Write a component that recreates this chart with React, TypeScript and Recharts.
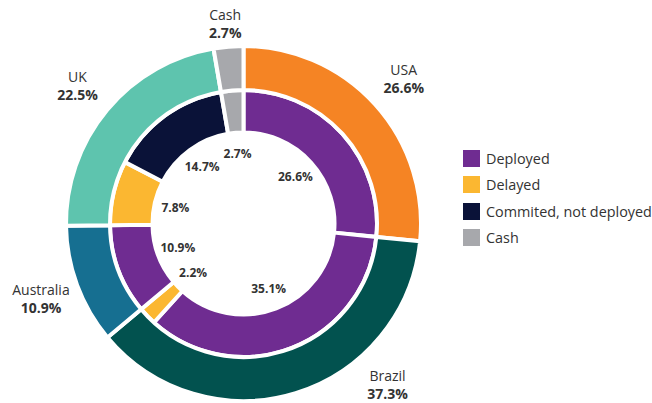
import React from "react";
import { PieChart, Pie, Cell, Legend } from "recharts";

const countries = ["USA", "Brazil", "Australia", "UK", "Cash"];
const countryValues = [26.6, 37.3, 10.9, 22.5, 2.7];
const countryColors = ["#f58424", "#02524f", "#166f91", "#5ec4ae", "#a7a8ac"];

const statusNames = ["Deployed", "Deployed", "Delayed", "Deployed", "Delayed", "Commited, not deployed", "Cash"];
const statusValues = [26.6, 35.1, 2.2, 10.9, 7.8, 14.7, 2.7];

const legendNames = ["Deployed", "Delayed", "Commited, not deployed", "Cash"];
const legendColors = ["#6f2c91", "#fbb731", "#0a1238", "#a7a8ac"];

const outerData = countries.map((name, i) => ({ name, value: countryValues[i] }));
const innerData = statusNames.map((name, i) => ({ name, value: statusValues[i] }));

const colorFor = (name: string) => legendColors[legendNames.indexOf(name)];

const RAD = Math.PI / 180;
const CX = 243.5;
const CY = 223.5;
const FONT = "'Open Sans', 'Noto Sans', sans-serif";
const TEXT = "#333333";

const innerLabel = (props: any) => {
  const { cx, cy, midAngle, value } = props;
  const r = 70;
  const x = cx + r * Math.cos(-midAngle * RAD);
  const y = cy + r * Math.sin(-midAngle * RAD);
  return (
    <text x={x} y={y} textAnchor="middle" dominantBaseline="central" fontFamily={FONT} fontSize={12} fontWeight={700} fill={TEXT}>
      {value.toFixed(1)}%
    </text>
  );
};

const outerLabel = (props: any) => {
  const { cx, cy, midAngle, value, name } = props;
  const r = 216;
  let dx = r * Math.cos(-midAngle * RAD);
  let dy = r * Math.sin(-midAngle * RAD);
  const maxDown = 161;
  if (dy > maxDown) {
    dy = maxDown;
    dx = Math.sign(dx || 1) * Math.sqrt(r * r - dy * dy);
  }
  const minUp = -200;
  if (dy < minUp) dy = minUp;
  const x = cx + dx;
  const y = cy + dy;
  return (
    <g>
      <text x={x} y={y - 9} textAnchor="middle" dominantBaseline="central" fontFamily={FONT} fontSize={14} fill={TEXT}>
        {name}
      </text>
      <text x={x} y={y + 9} textAnchor="middle" dominantBaseline="central" fontFamily={FONT} fontSize={14} fontWeight={700} fill={TEXT}>
        {value.toFixed(1)}%
      </text>
    </g>
  );
};

const renderLegend = () => (
  <div style={{ fontFamily: FONT, fontSize: 14.4, color: TEXT }}>
    {legendNames.map((n, i) => (
      <div key={n} style={{ display: "flex", alignItems: "center", height: 26.5 }}>
        <div style={{ width: 17, height: 17, background: legendColors[i], marginRight: 6 }} />
        <span>{n}</span>
      </div>
    ))}
  </div>
);

export default function App() {
  return (
    <div style={{ position: "absolute", left: 0, top: 0, width: 652, height: 403, background: "#fff" }}>
      <PieChart width={652} height={403} margin={{ top: 0, right: 0, bottom: 0, left: 0 }}>
        <Pie
          data={innerData}
          dataKey="value"
          nameKey="name"
          cx={CX}
          cy={CY}
          startAngle={90}
          endAngle={-270}
          innerRadius={91}
          outerRadius={133.5}
          stroke="#ffffff"
          strokeWidth={4}
          label={innerLabel}
          labelLine={false}
          isAnimationActive={false}
        >
          {innerData.map((d, i) => (
            <Cell key={i} fill={colorFor(d.name)} />
          ))}
        </Pie>
        <Pie
          data={outerData}
          dataKey="value"
          nameKey="name"
          cx={CX}
          cy={CY}
          startAngle={90}
          endAngle={-270}
          innerRadius={133.5}
          outerRadius={177.5}
          stroke="#ffffff"
          strokeWidth={4}
          label={outerLabel}
          labelLine={false}
          isAnimationActive={false}
        >
          {outerData.map((d, i) => (
            <Cell key={i} fill={countryColors[i]} />
          ))}
        </Pie>
        <Legend
          content={renderLegend}
          layout="vertical"
          wrapperStyle={{ position: "absolute", left: 463, top: 145, width: 190 }}
        />
      </PieChart>
    </div>
  );
}
